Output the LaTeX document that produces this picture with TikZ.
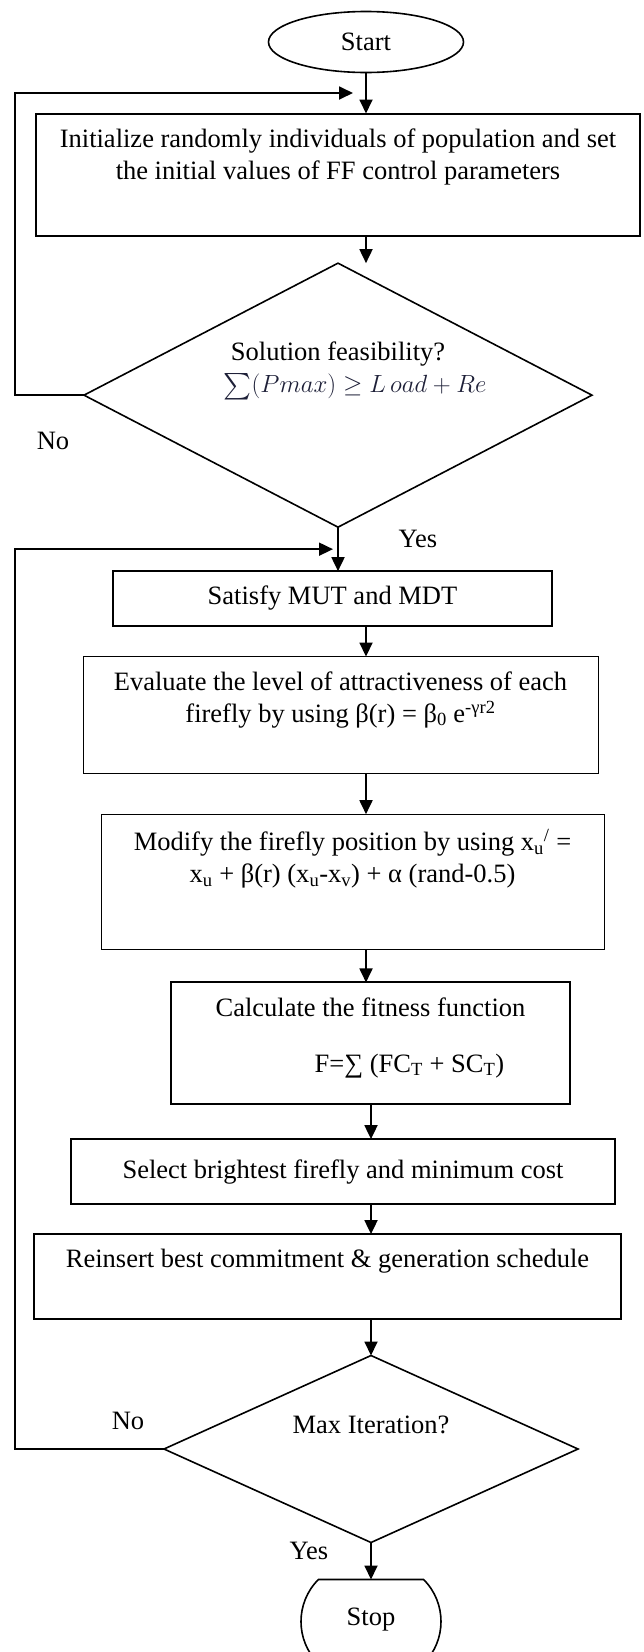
\documentclass[tikz,border=0pt]{standalone}
\usepackage{amsmath,amssymb}
\usepackage{fontspec}
\setmainfont{Liberation Serif}
\usepackage{xcolor}
\usetikzlibrary{arrows.meta,positioning,shapes.geometric,shapes.misc,calc}

\definecolor{mathink}{RGB}{30,32,56}

\begin{document}
\begin{tikzpicture}[
  x=1pt, y=1pt,
  font=\fontsize{26.5}{32}\selectfont,
  term/.style={ellipse, draw, line width=1.6pt, minimum width=195pt, minimum height=61pt, inner sep=0pt, outer sep=0pt},
  box/.style={draw, line width=2pt, align=center, inner xsep=8pt, inner ysep=15pt, outer sep=0pt},
  thinbox/.style={box, line width=1pt},
  decision/.style={diamond, draw, line width=1.6pt, align=center, inner sep=0pt, outer sep=0pt},
  halt/.style={rounded rectangle, rounded rectangle arc length=90, draw, line width=1.6pt, minimum width=140pt, minimum height=84pt, inner sep=0pt, outer sep=0pt},
  arrow/.style={-{Triangle[length=14pt,width=13pt]}, line width=1.8pt},
  lbl/.style={inner sep=0pt}
]
  \useasboundingbox (0,0) rectangle (643,-1652);

  \node[term] (start) at (366,-42) {Start};
  \node[box, below=41pt of start, xshift=-28pt, minimum width=604pt, minimum height=122pt, text depth=42pt] (init)
    {Initialize randomly individuals of population and set\\the initial values of FF control parameters};
  \node[decision, below=27pt of init, minimum width=508pt, minimum height=264pt, aspect=1.92, text depth=56pt] (feas)
    {Solution feasibility?\\[0pt]\hbox{\kern17pt\textcolor{mathink}{$\sum(Pmax)\geq L\,oad+Re$}\kern-17pt}};
  \node[box, below=44pt of feas, xshift=-5.5pt, minimum width=439pt, minimum height=51pt] (mut)
    {Satisfy MUT and MDT};
  \node[thinbox, below=31pt of mut, xshift=8pt, minimum width=515pt, minimum height=116pt, text depth=36pt] (attract)
    {Evaluate the level of attractiveness of each\\firefly by using β(r) = β\textsubscript{0} e\textsuperscript{-γr2}};
  \node[thinbox, below=41pt of attract, xshift=12pt, minimum width=503pt, minimum height=132pt, text depth=52pt] (modify)
    {Modify the firefly position by using x\textsubscript{u}\textsuperscript{/} =\\x\textsubscript{u} + β(r) (x\textsubscript{u}-x\textsubscript{v}) + α (rand-0.5)};
  \node[box, below=33pt of modify, xshift=18pt, minimum width=399pt, minimum height=121pt, text depth=17pt] (fitness)
    {Calculate the fitness function\\[24pt]\hbox{\kern78pt F=∑ (FC\textsubscript{T} + SC\textsubscript{T})}};
  \node[box, below=35pt of fitness, xshift=-27.5pt, minimum width=544pt, minimum height=65pt] (select)
    {Select brightest firefly and minimum cost};
  \node[box, below=30pt of select, xshift=-15.5pt, minimum width=587pt, minimum height=84pt, text depth=36pt] (reinsert)
    {Reinsert best commitment \& generation schedule};
  \node[decision, below=37pt of reinsert, xshift=43.5pt, minimum width=414pt, minimum height=187pt, aspect=2.21, text depth=48pt] (maxit)
    {Max Iteration?};
  \node[halt, below=37pt of maxit, text depth=10pt] (stop) {Stop};

  % branch labels
  \node[lbl] (no1) at ([shift={(-31pt,-46pt)}]feas.west) {No};
  \node[lbl] (yes1) at ([shift={(80pt,-12pt)}]feas.south) {Yes};
  \node[lbl] (no2) at ([shift={(-36pt,28pt)}]maxit.west) {No};
  \node[lbl] (yes2) at ([shift={(-62pt,-8pt)}]maxit.south) {Yes};

  % main flow
  \draw[arrow] (start.south) -- (start.south |- init.north);
  \draw[arrow] (init.south -| start.south) -- (feas.north -| start.south);
  \draw[arrow] (feas.south) -- (feas.south |- mut.north);
  \draw[arrow] (mut.south -| start) -- (attract.north -| start);
  \draw[arrow] (attract.south -| start) -- (modify.north -| start);
  \draw[arrow] (modify.south -| start) -- (fitness.north -| start);
  \draw[arrow] (fitness.south -| maxit) -- (select.north -| maxit);
  \draw[arrow] (select.south -| maxit) -- (reinsert.north -| maxit);
  \draw[arrow] (reinsert.south -| maxit) -- (maxit.north);
  \draw[arrow] (maxit.south) -- (stop.north);

  % feedback loops on the left
  \coordinate (rail) at (15,0);
  \coordinate (back1) at ($(start.south)!.5!(start.south |- init.north) + (-13pt,0)$);
  \coordinate (back2) at ($(feas.south)!.5!(feas.south |- mut.north) + (-5pt,0)$);
  \draw[arrow] (feas.west) -- (feas.west -| rail) |- (back1);
  \draw[arrow] (maxit.west) -- (maxit.west -| rail) |- (back2);
\end{tikzpicture}
\end{document}
